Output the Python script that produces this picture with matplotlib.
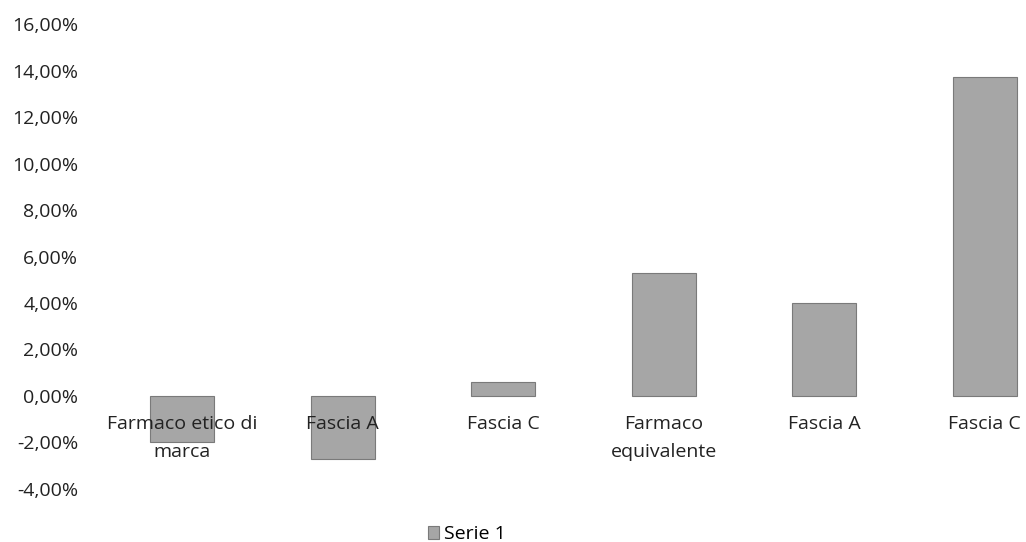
import matplotlib.pyplot as plt
from matplotlib.ticker import FuncFormatter, MultipleLocator

# ---- DATA ----
categories = ["Farmaco etico di\nmarca", "Fascia A", "Fascia C",
              "Farmaco\nequivalente", "Fascia A", "Fascia C"]
serie_1 = [-2.0, -2.7, 0.6, 5.3, 4.0, 13.7]  # percent
series_name = "Serie 1"

plt.rcParams["font.family"] = ["Open Sans", "DejaVu Sans"]

fig = plt.figure(figsize=(10.26, 5.42), dpi=100)
ax = fig.add_axes([0.0994, 0.0978, 0.9386, 0.8579])

x = range(len(categories))
ax.bar(x, serie_1, width=0.4, color="#a6a6a6", edgecolor="#7a7a7a",
       linewidth=0.8, label=series_name)

ax.set_xlim(-0.5, len(categories) - 0.5)
ax.set_ylim(-4, 16)

# spines off, category labels hang just under the zero line
for s in ax.spines.values():
    s.set_visible(False)
ax.spines["bottom"].set_position(("data", 0))

ax.yaxis.set_major_locator(MultipleLocator(2))
ax.yaxis.set_major_formatter(
    FuncFormatter(lambda v, p: f"{v:.2f}%".replace(".", ",")))

ax.set_xticks(list(x))
ax.set_xticklabels(categories, fontsize=14, color="#222222", linespacing=1.65)

ax.tick_params(axis="y", length=0, pad=17, labelsize=14, labelcolor="#222222")
ax.tick_params(axis="x", length=0, pad=14)

fig.legend(loc="lower center", bbox_to_anchor=(0.455, -0.035), frameon=False,
           fontsize=14, handlelength=0.6, handleheight=0.6, handletextpad=0.25)

fig.savefig("out.png", dpi=100)
